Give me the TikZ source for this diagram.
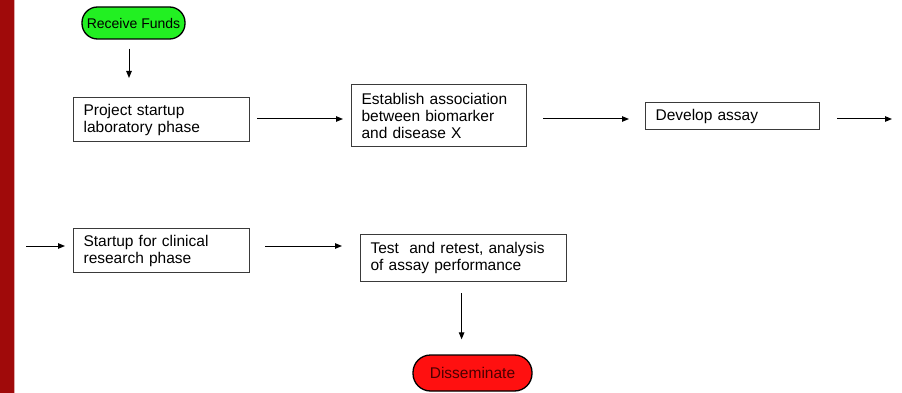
\documentclass[tikz,border=0pt]{standalone}
\usepackage{fontspec}
\setmainfont{Liberation Sans}
\usetikzlibrary{arrows.meta,calc}
\definecolor{barred}{HTML}{A00A0A}
\definecolor{boxline}{HTML}{3A3A3A}
\definecolor{startgreen}{HTML}{22F022}
\definecolor{endred}{HTML}{FF1010}
\definecolor{endtext}{HTML}{4A0000}
\tikzset{
  stepbox/.style={draw=boxline, line width=1.2pt, fill=white, align=left,
    inner xsep=10pt, inner ysep=0pt, font=\fontsize{15.5}{17}\selectfont,
    anchor=north west},
  terminal/.style={draw=black, line width=1.3pt, rounded corners=15.5pt,
    inner sep=0pt},
  conn/.style={draw=black, line width=1pt,
    -{Triangle[length=7pt,width=5.5pt]}},
}
\begin{document}
\begin{tikzpicture}[x=1pt,y=-1pt]
  % page frame and the red band on the left
  \useasboundingbox (0,0) rectangle (902,393);
  \fill[white] (0,0) rectangle (902,393);
  \fill[barred] (0,0) rectangle (13.5,393);
  \fill[barred!35] (13.5,0) rectangle (14.5,393);

  % start and end terminals
  \node[terminal, fill=startgreen, minimum width=103pt, minimum height=32pt,
    font=\fontsize{14}{15}\selectfont] (rf) at (133.5,23) {Receive Funds};
  \node[terminal, fill=endred, minimum width=119pt, minimum height=36pt,
    rounded corners=17.5pt, text=endtext,
    font=\fontsize{15.5}{17}\selectfont] (dis) at (472.5,373) {Disseminate};

  % process steps, first row
  \node[stepbox, text width=156pt, minimum height=44pt] (b1) at (73,97)
    {Project startup\\laboratory phase};
  \node[stepbox, text width=155pt, minimum height=62pt] (b2) at (351,84)
    {Establish association\\between biomarker\\and disease X};
  \node[stepbox, text width=154pt, minimum height=27pt] (b3) at (645,102)
    {Develop assay};

  % process steps, second row
  \node[stepbox, text width=156pt, minimum height=44pt] (b4) at (73,228)
    {Startup for clinical\\research phase};
  \node[stepbox, text width=186pt, minimum height=47pt] (b5) at (360,234)
    {Test~ and retest, analysis\\of assay performance};

  % loose ends of the row-wrap arrows
  \coordinate (outR) at (892,119);
  \coordinate (inL) at (26,246);

  % connectors
  \draw[conn, shorten <=9pt, shorten >=19pt]
    ([xshift=-4.5pt]rf.south) -- ([xshift=-4.5pt]rf.south |- b1.north);
  \draw[conn, shorten <=7pt, shorten >=8pt]
    (b1.east |- outR) -- (b2.west |- outR);
  \draw[conn, shorten <=16pt, shorten >=16pt]
    (b2.east |- outR) -- (b3.west |- outR);
  \draw[conn, shorten <=17pt] (b3.east |- outR) -- (outR);
  \draw[conn, shorten >=8pt] (inL) -- (b4.west |- inL);
  \draw[conn, shorten <=15pt, shorten >=18pt]
    (b4.east |- inL) -- (b5.west |- inL);
  \draw[conn, shorten <=11pt, shorten >=15pt]
    ([xshift=-2pt]b5.south) -- ([xshift=-2pt]b5.south |- dis.north);
\end{tikzpicture}
\end{document}
